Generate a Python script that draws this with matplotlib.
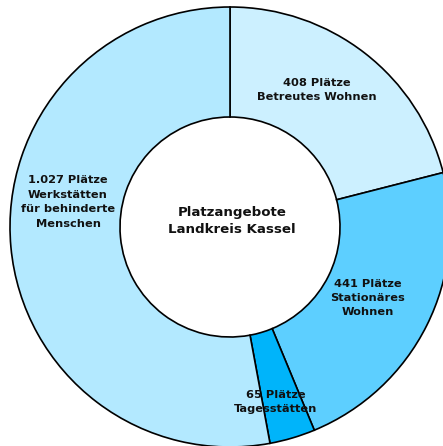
import matplotlib
matplotlib.use("Agg")
import matplotlib.pyplot as plt

categories = ["Betreutes Wohnen", "Stationäres Wohnen", "Tagesstätten", "Werkstätten für behinderte Menschen"]
values = [408, 441, 65, 1027]
labels = ["408 Plätze\nBetreutes Wohnen", "441 Plätze\nStationäres\nWohnen",
          "65 Plätze\nTagesstätten", "1.027 Plätze\nWerkstätten\nfür behinderte\nMenschen"]
colors = ["#CCF0FF", "#5DCFFF", "#00B4FA", "#B3E9FF"]
center_title = "Platzangebote\nLandkreis Kassel"

plt.rcParams['font.family'] = ['DejaVu Sans']

fig = plt.figure(figsize=(4.43, 4.46), dpi=100)
ax = fig.add_axes([10/443, -1/446, 440/443, 440/446])
ax.pie(values, colors=colors, startangle=90, counterclock=False, radius=1,
       wedgeprops=dict(width=0.5, edgecolor="black", linewidth=1.2))
ax.set_xlim(-1, 1)
ax.set_ylim(-1, 1)
ax.set_aspect('equal')
ax.axis('off')

label_pos = [(0.395, 0.623), (0.627, -0.323), (0.209, -0.795), (-0.736, 0.114)]
label_ls = [1.4, 1.55, 1.6, 1.6]
for (x, y), t, ls in zip(label_pos, labels, label_ls):
    ax.text(x, y, t, ha='center', va='center', fontsize=8.2, fontweight='bold',
            linespacing=ls, color='#111111')
ax.text(0.01, 0.027, center_title, ha='center', va='center', fontsize=9.6,
        fontweight='bold', linespacing=1.45, color='#111111')

fig.savefig("out.png", dpi=100)
